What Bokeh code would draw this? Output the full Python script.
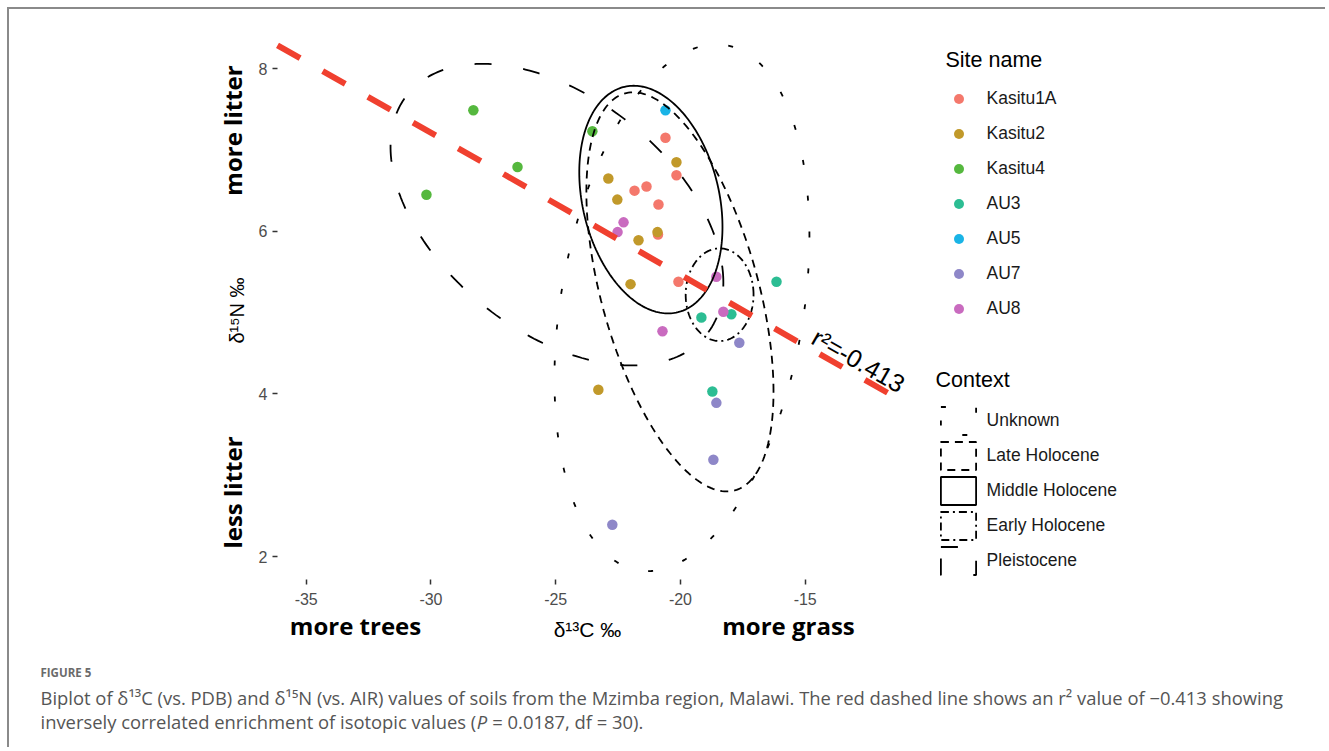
import numpy as np
from bokeh.plotting import figure
from bokeh.models import Range1d, FixedTicker, Label, Legend, LegendItem
from bokeh.embed import file_html
from bokeh.resources import INLINE

# ---------------- data ----------------
sites = ["Kasitu1A", "Kasitu2", "Kasitu4", "AU3", "AU5", "AU7", "AU8"]
site_colors = ["#F4786C", "#C1992A", "#55B83E", "#2CBD93", "#1AB4E6", "#8E87C8", "#C96BBF"]

kasitu1a_d13c = [-20.60, -20.16, -21.84, -21.36, -20.88, -20.90, -20.08]
kasitu1a_d15n = [7.15, 6.69, 6.50, 6.55, 6.33, 5.96, 5.38]
kasitu2_d13c = [-20.16, -22.89, -22.53, -21.68, -20.92, -22.00, -23.29]
kasitu2_d15n = [6.85, 6.65, 6.39, 5.89, 5.99, 5.35, 4.05]
kasitu4_d13c = [-30.18, -28.30, -26.53, -23.53]
kasitu4_d15n = [6.45, 7.49, 6.79, 7.23]
au3_d13c = [-16.15, -19.16, -17.96, -18.72]
au3_d15n = [5.38, 4.94, 4.98, 4.03]
au5_d13c = [-20.60]
au5_d15n = [7.49]
au7_d13c = [-17.64, -18.56, -18.68, -22.73]
au7_d15n = [4.63, 3.89, 3.19, 2.39]
au8_d13c = [-22.28, -22.52, -18.56, -18.28, -20.72]
au8_d15n = [6.11, 5.99, 5.44, 5.01, 4.77]

site_d13c = [kasitu1a_d13c, kasitu2_d13c, kasitu4_d13c, au3_d13c, au5_d13c, au7_d13c, au8_d13c]
site_d15n = [kasitu1a_d15n, kasitu2_d15n, kasitu4_d15n, au3_d15n, au5_d15n, au7_d15n, au8_d15n]

# context ellipses (centre, half-extent in x and y, correlation)
contexts = ["Unknown", "Late Holocene", "Middle Holocene", "Early Holocene", "Pleistocene"]
ellipse_cx = [-19.94, -20.02, -21.185, -18.43, -24.95]
ellipse_cy = [5.06, 5.255, 6.39, 5.22, 6.205]
ellipse_sx = [5.11, 3.75, 2.87, 1.36, 6.67]
ellipse_sy = [3.24, 2.455, 1.40, 0.57, 1.855]
ellipse_r = [0.27, -0.50, -0.24, 0.0, -0.45]

x_ticks = [-35, -30, -25, -20, -15]
y_ticks = [2, 4, 6, 8]
r2_text = "r\u00b2=-0.413"

# ---------------- styles ----------------
context_dash = ["5 31", "8 6", "solid", "8 4 2 4", "17 32"]

# ---------------- layout (page pixels) ----------------
OX, OY = 9, 9                 # canvas origin on page (7px css margin + 2px border)
W, H = 1318, 740
MB_L, MB_R, MB_T, MB_B = 28, 4, 30, 0
FLp, FRp, FTp, FBp = OX + MB_L, OX + W - MB_R, OY + MB_T, OY + H - MB_B   # drawing frame on page
PANEL_L, PANEL_B = 277, 579   # ggplot panel edges on page
PX_PER_X, PX_PER_Y = 24.95, 81.3
X_AT_PANEL_L = -36.15
Y_AT_PANEL_B = 2 - (PANEL_B - 556) / PX_PER_Y

XS = X_AT_PANEL_L - (PANEL_L - FLp) / PX_PER_X
XE = X_AT_PANEL_L + (FRp - PANEL_L) / PX_PER_X
YS = Y_AT_PANEL_B - (FBp - PANEL_B) / PX_PER_Y
YE = Y_AT_PANEL_B + (PANEL_B - FTp) / PX_PER_Y


def px2x(px):
    return XS + (px - FLp) / PX_PER_X


def py2y(py):
    return YS + (FBp - py) / PX_PER_Y


p = figure(width=W, height=H, output_backend="svg", toolbar_location=None,
           x_range=Range1d(XS, XE), y_range=Range1d(YS, YE),
           x_axis_location="above", y_axis_location="left",
           min_border_left=MB_L, min_border_right=MB_R,
           min_border_top=MB_T, min_border_bottom=MB_B)
p.styles = {"margin-top": "7px", "margin-left": "7px",
            "border-top": "2px solid #8a8a8a", "border-left": "2px solid #8a8a8a"}
p.outline_line_color = None
p.xgrid.grid_line_color = None
p.ygrid.grid_line_color = None
p.background_fill_color = "white"
p.border_fill_color = "white"

for ax, tk in ((p.xaxis, x_ticks), (p.yaxis, y_ticks)):
    ax.ticker = FixedTicker(ticks=tk)
    ax.major_label_overrides = {v: str(v) for v in tk}
    ax.axis_line_color = None
    ax.minor_tick_line_color = None
    ax.major_tick_line_color = "#333333"
    ax.major_tick_line_width = 1.5
    ax.major_label_text_font = "Liberation Sans"
    ax.major_label_text_font_size = "16px"
    ax.major_label_text_color = "#4D4D4D"

# y axis: drawn at the panel's left edge, ticks pointing outwards
p.yaxis.fixed_location = X_AT_PANEL_L
p.yaxis.major_tick_in = 0
p.yaxis.major_tick_out = 5
p.yaxis.major_label_standoff = 5
# x axis: drawn at the panel's bottom edge, ticks and labels below it
p.xaxis.fixed_location = Y_AT_PANEL_B
p.xaxis.major_tick_in = 5
p.xaxis.major_tick_out = 0
p.xaxis.major_label_standoff = -25

# points
site_renderers = []
for name, col, xs, ys in zip(sites, site_colors, site_d13c, site_d15n):
    r = p.scatter(xs, ys, size=10.5, fill_color=col, line_color=None)
    site_renderers.append(r)

# ellipses
t = np.linspace(0, 2 * np.pi, 240)
ctx_renderers = []
for name, cx, cy, sx, sy, rr, dash in zip(contexts, ellipse_cx, ellipse_cy, ellipse_sx,
                                           ellipse_sy, ellipse_r, context_dash):
    ex = cx + sx * np.cos(t)
    ey = cy + sy * (rr * np.cos(t) + np.sqrt(1 - rr ** 2) * np.sin(t))
    r = p.patch(ex, ey, fill_color=None, fill_alpha=0, line_color="black",
                line_width=1.8, line_dash=dash)
    ctx_renderers.append(r)

# regression line through all points
all_x = np.concatenate([np.array(v) for v in site_d13c])
all_y = np.concatenate([np.array(v) for v in site_d15n])
slope, intercept = np.polyfit(all_x, all_y, 1)
fit_x = np.array([X_AT_PANEL_L, px2x(890)])
p.line(fit_x, intercept + slope * fit_x, line_color="#F0402F", line_width=6,
       line_dash="26 26")

# r^2 annotation
p.add_layout(Label(x=px2x(858), y=py2y(360), text=r2_text, angle=-0.52,
                   text_align="center", text_baseline="middle",
                   text_font="Liberation Sans", text_font_size="25px", text_color="black"))

# legends
leg_style = dict(spacing=0, padding=0, margin=0, border_line_color=None, background_fill_alpha=0,
                 title_text_font="Liberation Sans", title_text_font_size="21.5px",
                 title_text_font_style="normal", title_text_color="black",
                 label_text_font="Liberation Sans", label_text_font_size="17.5px",
                 label_text_color="#1a1a1a")
site_legend = Legend(items=[LegendItem(label=n, renderers=[r]) for n, r in zip(sites, site_renderers)],
                     title="Site name", location=(945.5 - FLp, FBp - 325.5),
                     glyph_width=25, glyph_height=35, label_standoff=16, title_standoff=8,
                     **leg_style)
ctx_legend = Legend(items=[LegendItem(label=n, renderers=[r]) for n, r in zip(contexts, ctx_renderers)],
                    title="Context", location=(935.6 - FLp, FBp - 577.5),
                    glyph_width=44, glyph_height=35, label_standoff=7, title_standoff=10,
                    **leg_style)
p.add_layout(site_legend)
p.add_layout(ctx_legend)


def page_label(px, py, text, **kw):
    return Label(x=px2x(px), y=py2y(py), text=text, **kw)


# axis titles and direction annotations
bold = dict(text_font="Open Sans", text_font_style="bold", text_font_size="24px",
            text_color="black", text_align="center", text_baseline="middle")
p.add_layout(page_label(232, 130, "more litter", angle=np.pi / 2, **bold))
p.add_layout(page_label(232, 492, "less litter", angle=np.pi / 2, **bold))
p.add_layout(page_label(355, 625, "more trees", **bold))
p.add_layout(page_label(788, 625, "more grass", **bold))
p.add_layout(page_label(236, 310, "\u03b4\u00b9\u2075N \u2030", angle=np.pi / 2,
                        text_font="Liberation Sans", text_font_size="20px", text_color="black",
                        text_align="center", text_baseline="middle"))
p.add_layout(page_label(587, 629, "\u03b4\u00b9\u00b3C \u2030",
                        text_font="Liberation Sans", text_font_size="21px", text_color="black",
                        text_align="center", text_baseline="middle"))

# caption
p.add_layout(page_label(40, 672, "FIGURE 5", text_font="Open Sans",
                        text_font_style="bold", text_font_size="11.5px", text_color="#6b6b6b",
                        text_align="left", text_baseline="middle"))
cap_style = dict(text_font="Open Sans", text_font_size="18.4px", text_color="#555555",
                 text_align="left", text_baseline="middle")
cap1 = ("Biplot of \u03b4\u00b9\u00b3C (vs. PDB) and \u03b4\u00b9\u2075N (vs. AIR) values of soils from the "
        "Mzimba region, Malawi. The red dashed line shows an r\u00b2 value of \u22120.413 showing")
p.add_layout(page_label(40, 697, cap1, **cap_style))
# second line, with an italic P
p.add_layout(page_label(40, 721, "inversely correlated enrichment of isotopic values (", **cap_style))
p.add_layout(page_label(476.3, 721, "P", text_font_style="italic", **cap_style))
p.add_layout(page_label(491.8, 721, "= 0.0187, df = 30).", **cap_style))

open("out.html", "w").write(file_html(p, INLINE))
